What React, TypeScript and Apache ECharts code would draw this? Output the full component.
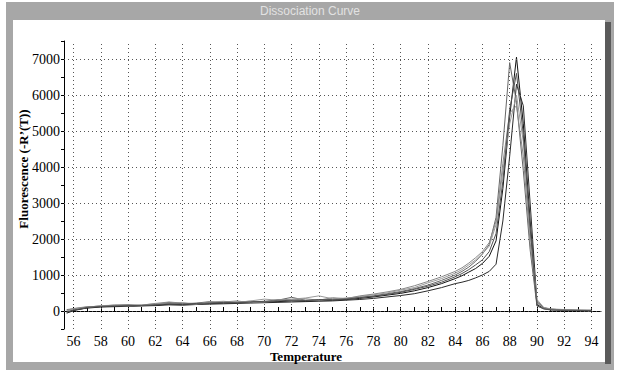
import React, { useEffect, useRef } from "react";
import * as echarts from "echarts";

const temps = [55.5, 56, 57, 58, 59, 60, 61, 62, 63, 64, 65, 66, 67, 68, 69, 70, 71, 72, 73, 74, 75, 76, 77, 78, 79, 80, 81, 82, 83, 84, 84.5, 85, 85.5, 86, 86.5, 87, 87.5, 88, 88.5, 89, 89.5, 90, 90.5, 91, 92, 93, 94];

const wellA = [-60, 10, 90, 120, 130, 140, 150, 160, 190, 180, 200, 210, 220, 230, 240, 250, 260, 280, 270, 290, 300, 320, 350, 390, 440, 490, 560, 650, 760, 900, 980, 1080, 1180, 1320, 1520, 1950, 3400, 5400, 7050, 5200, 2500, 180, 70, 40, 20, 15, 10];
const wellB = [-20, 30, 80, 110, 120, 130, 140, 150, 170, 160, 180, 190, 200, 210, 220, 230, 240, 250, 260, 270, 280, 300, 320, 350, 390, 430, 480, 560, 650, 760, 800, 850, 920, 1000, 1100, 1300, 2500, 4300, 6300, 5700, 3000, 260, 90, 50, 30, 20, 20];
const wellC = [40, 60, 110, 140, 150, 160, 150, 180, 240, 200, 220, 260, 230, 250, 270, 240, 300, 380, 300, 280, 330, 350, 380, 420, 480, 540, 620, 720, 850, 1000, 1100, 1220, 1380, 1580, 1850, 2600, 4600, 6900, 5800, 3900, 1700, 140, 60, 30, 20, 10, 0];
const wellD = [0, 50, 100, 150, 160, 140, 170, 200, 210, 230, 200, 250, 270, 240, 280, 330, 300, 330, 360, 420, 340, 360, 400, 450, 500, 580, 650, 780, 900, 1050, 1150, 1280, 1420, 1600, 1800, 2400, 3900, 5200, 6000, 4700, 2200, 320, 100, 60, 40, 30, 20];
const wellE = [20, 70, 120, 130, 170, 180, 160, 210, 250, 220, 190, 230, 250, 280, 230, 260, 320, 300, 340, 300, 370, 340, 420, 470, 530, 600, 700, 820, 950, 1100, 1200, 1330, 1480, 1650, 1900, 2500, 4100, 5500, 5700, 4300, 1900, 220, 80, 50, 30, 20, 10];
const wellF = [-40, 20, 100, 125, 140, 150, 155, 170, 200, 190, 210, 220, 240, 230, 250, 270, 280, 300, 290, 320, 310, 330, 370, 410, 460, 520, 600, 690, 800, 950, 1040, 1150, 1280, 1420, 1650, 2150, 3600, 5600, 6600, 4900, 2300, 150, 60, 30, 20, 15, 10];

const wells = [wellA, wellB, wellC, wellD, wellE, wellF];
const wellColors = ["#111111", "#2a2a2a", "#666666", "#9a9a9a", "#888888", "#505050"];

const xTickLabels = [56, 58, 60, 62, 64, 66, 68, 70, 72, 74, 76, 78, 80, 82, 84, 86, 88, 90, 92, 94];
const xMinorTicks = [56, 57, 58, 59, 60, 61, 62, 63, 64, 65, 66, 67, 68, 69, 70, 71, 72, 73, 74, 75, 76, 77, 78, 79, 80, 81, 82, 83, 84, 85, 86, 87, 88, 89, 90, 91, 92, 93, 94];
const yTickLabels = [0, 1000, 2000, 3000, 4000, 5000, 6000, 7000];

const serifFont = '"Liberation Serif", "DejaVu Serif", serif';

export default function App() {
  const ref = useRef<HTMLDivElement>(null);
  useEffect(() => {
    document.body.style.margin = "0";
    const chart = echarts.init(ref.current!, null, { renderer: "svg" });
    const lineSeries = wells.map((w, i) => ({
      type: "line",
      name: "well" + (i + 1),
      data: temps.map((t, j) => [t, w[j]]),
      showSymbol: false,
      symbol: "none",
      z: 3 + i,
      lineStyle: { color: wellColors[i], width: 1 },
    }));
    const richSerif = {
      s: { fontFamily: "Liberation Serif", fontSize: 14, color: "#000", fontWeight: "normal" },
    };
    const option: any = {
      animation: false,
      backgroundColor: "#ffffff",
      textStyle: { fontFamily: "Liberation Serif" },
      grid: { left: 64, right: 16, top: 41, bottom: 41 },
      xAxis: {
        type: "value",
        min: 55.3,
        max: 94.7,
        axisLine: { show: true, lineStyle: { color: "#000", width: 1 } },
        axisTick: { show: true, inside: true, length: 4, customValues: xMinorTicks, lineStyle: { color: "#000" } },
        axisLabel: {
          customValues: xTickLabels,
          margin: 5,
          fontFamily: "Liberation Serif",
          fontSize: 14,
          color: "#000",
          formatter: (v: number) => "{s|" + v + "}",
          rich: richSerif,
        },
        splitLine: { show: false },
      },
      yAxis: {
        type: "value",
        min: -500,
        max: 7500,
        interval: 500,
        axisLine: { show: true, lineStyle: { color: "#000", width: 1 } },
        axisTick: { show: true, inside: false, length: 3, lineStyle: { color: "#000" } },
        axisLabel: {
          margin: 4,
          fontFamily: "Liberation Serif",
          fontSize: 14,
          color: "#000",
          formatter: (v: number) => (yTickLabels.indexOf(v) >= 0 ? "{s|" + v + "}" : ""),
          rich: richSerif,
        },
        splitLine: { show: false },
      },
      graphic: [
        { type: "rect", z: -20, shape: { x: 0, y: 0, width: 617, height: 370 }, style: { fill: "#ffffff" } },
        { type: "rect", z: -19, shape: { x: 6, y: 2, width: 608, height: 368 }, style: { fill: "#a7a7a7" } },
        { type: "rect", z: -18, shape: { x: 605, y: 22, width: 6, height: 342 }, style: { fill: "#5a5a5a" } },
        { type: "rect", z: -17, shape: { x: 13, y: 20, width: 592, height: 342 }, style: { fill: "#ffffff" } },
        {
          type: "text",
          z: 50,
          x: 310,
          y: 11,
          style: { text: "Dissociation Curve", fill: "#e2e2e2", font: '12px "Liberation Sans", Arial, sans-serif', textAlign: "center", verticalAlign: "middle" },
        },
        {
          type: "text",
          z: 50,
          x: 23,
          y: 169,
          rotation: Math.PI / 2,
          style: { text: "Fluorescence (-R’(T))", fill: "#000", font: "bold 13px " + serifFont, textAlign: "center", verticalAlign: "middle" },
        },
        {
          type: "text",
          z: 50,
          x: 306,
          y: 356,
          style: { text: "Temperature", fill: "#000", font: "bold 13px " + serifFont, textAlign: "center", verticalAlign: "middle" },
        },
      ],
      series: [
        {
          type: "line",
          name: "grid",
          data: [[56, 0]],
          symbol: "none",
          showSymbol: false,
          z: 1,
          lineStyle: { opacity: 0, width: 0 },
          markLine: {
            silent: true,
            symbol: ["none", "none"],
            label: { show: false },
            lineStyle: { color: "#555", type: [1, 3], width: 1 },
            data: [
              ...xTickLabels.map((v) => ({ xAxis: v })),
              ...yTickLabels.map((v) => ({ yAxis: v })),
            ],
          },
        },
        ...lineSeries,
      ],
    };
    chart.setOption(option);
    return () => chart.dispose();
  }, []);
  return <div ref={ref} style={{ position: "absolute", left: 0, top: 0, width: 617, height: 370 }} />;
}
